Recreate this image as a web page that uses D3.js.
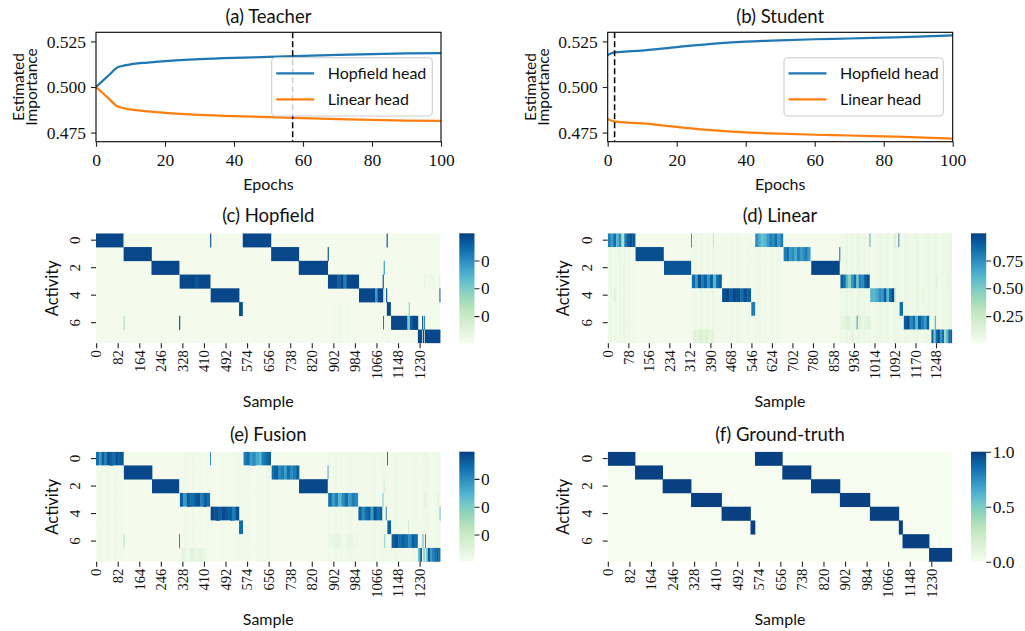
<!DOCTYPE html>
<html><head><meta charset="utf-8">
<script src="https://cdn.jsdelivr.net/npm/d3@7/dist/d3.min.js"></script>
<style>
body{margin:0;background:#fff;}
svg text{fill:#111;}
.sans{font-family:Lato,"Noto Sans",sans-serif;}
.serif{font-family:"Liberation Serif",serif;}
</style></head><body>
<svg id="fig" width="1025" height="631" xmlns="http://www.w3.org/2000/svg"></svg>
<script>
// ---------------- DATA ----------------
const teacherEpochs   = [0,2,4,6,8,10,15,20,30,40,50,60,70,80,90,100];
const teacherHopfield = [0.5000,0.5035,0.5070,0.5105,0.5117,0.5124,0.5134,0.5142,0.5153,0.5160,0.5165,0.5171,0.5176,0.5180,0.5184,0.5186];
const teacherLinear   = [0.5000,0.4966,0.4931,0.4896,0.4884,0.4877,0.4866,0.4858,0.4847,0.4840,0.4835,0.4829,0.4824,0.4820,0.4816,0.4814];
const teacherBest = 57;

const studentEpochs   = [0,2,5,10,20,30,40,50,60,70,80,90,100];
const studentHopfield = [0.5176,0.5190,0.5194,0.5200,0.5219,0.5237,0.5249,0.5256,0.5262,0.5266,0.5271,0.5276,0.5283];
const studentLinear   = [0.4824,0.4810,0.4806,0.4800,0.4781,0.4763,0.4751,0.4744,0.4738,0.4734,0.4729,0.4724,0.4717];
const studentBest = 2;

const lineYTicks = [0.475,0.500,0.525];
const lineXTicks = [0,20,40,60,80,100];
const seriesNames = ["Hopfield head","Linear head"];

const nSamples = 1310;
const activities = [0,1,2,3,4,5,6,7];
const activityTicks = [0,2,4,6];

// blocks: [activity, startSample, endSample, intensity profile along the block]
const groundTruthBlocks = [
  [0,0,104,[1]],[1,104,209,[1]],[2,209,317,[1]],[3,317,433,[1]],[4,433,543,[1]],[5,543,560,[1]],
  [0,560,664,[1]],[1,664,773,[1]],[2,773,883,[1]],[3,883,997,[1]],[4,997,1107,[1]],[5,1107,1121,[1]],
  [6,1121,1222,[1]],[7,1222,1310,[1]]
];

const hopfieldBlocks = [
  [0,0,104,[0.97]],[1,105,211,[0.97]],[2,211,316,[0.97]],
  [3,318,434,[0.97,0.97,0.97,0.97,0.93,0.97,0.97,0.97]],
  [4,436,544,[0.97]],[5,544,557,[0.95]],
  [0,558,665,[0.97]],[1,666,771,[0.97]],[2,771,881,[0.97]],
  [3,882,999,[0.97,0.97,0.97,0.9,0.97,0.8,0.97,0.97,0.97,0.97]],
  [4,1000,1091,[0.97,0.97,0.97,0.97,0.97,0.97,0.7,0.97,0.97]],
  [5,1106,1120,[0.97]],
  [6,1122,1224,[0.97,0.97,0.97,0.97,0.97,0.97,0.5,0.9,0.97,0.97]],
  [7,1224,1239,[0.97]],[7,1243,1246,[0.97]],[7,1250,1310,[0.97]]
];
// streaks: [activity, sample, value, width]
const hopfieldStreaks = [
  [0,105,0.12,3],[6,105,0.35,3],[6,316,0.95,3],[0,434,0.95,3],[1,881,0.95,3],
  [0,1105,0.95,3],[2,1094,0.7,3],[3,1090,0.95,3],[4,1096,0.2,3],[4,1103,0.95,3],[6,1092,0.95,3],
  [4,1306,0.95,4],[5,1189,0.45,3],[3,1250,0.18,3],[3,1304,0.15,3],
  [6,1240,0.95,3],[6,1247,0.75,3]
];
// tints: [activities, startSample, endSample, faint levels]
const hopfieldTints = [
  [[5,6,7],890,960,[0.02,0.04,0.02,0.05,0.03,0.02,0.04]],
  [[6,7],1090,1122,[0.03,0.05]],
  [[3],1240,1310,[0.03,0.06,0.03]]
];

const linearBlocks = [
  [0,0,104,[0.8,0.7,0.85,0.6,0.75,0.35,0.8,0.9,0.95,0.92]],
  [1,106,212,[0.95]],[2,214,316,[0.93]],
  [3,320,434,[0.85,0.7,0.95,0.8,0.9,0.72,0.9,0.6,0.85,0.9]],
  [4,435,544,[0.95,0.98,0.9,0.97,0.95,0.85,0.95,0.9]],
  [5,546,561,[0.8]],
  [0,561,666,[0.75,0.65,0.55,0.6,0.7,0.8,0.75,0.85,0.7,0.8]],
  [1,669,770,[0.8,0.85,0.7,0.75,0.65,0.8,0.7,0.75,0.8,0.7]],
  [2,774,881,[0.97]],
  [3,885,995,[0.9,0.85,0.6,0.45,0.7,0.85,0.55,0.8,0.75,0.9,0.95]],
  [4,998,1090,[0.6,0.6,0.65,0.75,0.7,0.9,0.6,0.85,0.95]],
  [5,1110,1123,[0.85]],
  [6,1126,1223,[0.9,0.95,0.75,0.85,0.6,0.9,0.8,0.7,0.9]],
  [7,1231,1310,[0.9,0.5,0.85,0.95,0.7,0.85,0.4,0.6,0.85,0.9]]
];
const linearStreaks = [
  [0,317,0.8,3],[0,401,0.3,3],[4,26,0.3,3],[1,881,0.95,3],[0,996,0.8,3],[0,1091,0.3,3],
  [0,1106,0.95,3],[4,1092,0.3,3],[6,947,0.8,3],[6,1244,0.75,3],[7,931,0.25,3],
  [3,1250,0.22,3],[3,1290,0.18,3],[4,1196,0.18,3],[1,40,0.12,3],[6,80,0.15,3]
];
const linearTints = [
  [[1,2,3,4,5,6,7],0,104,[0.05,0.08,0.04,0.06,0.03,0.07,0.05,0.08,0.04,0.06,0.03,0.05]],
  [[0,1,2,4,5,6,7],320,434,[0.04,0.06,0.03,0.07,0.05,0.03,0.06,0.04,0.07,0.03,0.05,0.04]],
  [[0,1,2,3,5,6,7],434,546,[0.04,0.03,0.05,0.03,0.06,0.04,0.03,0.05]],
  [[1,2,3,4,5,6,7],546,666,[0.03,0.05,0.06,0.04,0.05,0.03,0.05,0.04,0.06,0.03]],
  [[0,1,2,4,5,6,7],885,998,[0.06,0.04,0.08,0.05,0.07,0.04,0.06,0.09,0.05,0.07,0.04,0.06]],
  [[0,1,2,3,4,5,6,7],998,1310,[0.04,0.06,0.08,0.05,0.07,0.04,0.08,0.06,0.04,0.07,0.06,0.05,0.08,0.04,0.06,0.07,0.05,0.08,0.04,0.06,0.05,0.07]],
  [[7],326,405,[0.14,0.09,0.18,0.12,0.16,0.1,0.15]],
  [[6],885,1000,[0.1,0.14,0.08,0.15,0.09,0.12]]
];

const fusionBlocks = [
  [0,0,104,[0.85,0.7,0.9,0.8,0.95,0.9,0.85,0.95,0.9,0.92]],
  [1,106,213,[0.97]],[2,213,315,[0.97]],
  [3,319,434,[0.9,0.7,0.9,0.85,0.9,0.95,0.8,0.9,0.85]],
  [4,436,544,[0.97,0.95,0.9,0.97,0.93,0.9,0.8,0.95]],
  [5,544,559,[0.85]],
  [0,561,664,[0.8,0.85,0.7,0.75,0.65,0.6,0.8,0.85,0.9]],
  [1,668,772,[0.85,0.9,0.75,0.8,0.7,0.85,0.75,0.8,0.9]],
  [2,772,880,[0.97]],
  [3,883,996,[0.85,0.7,0.8,0.6,0.75,0.85,0.7,0.8,0.75]],
  [4,998,1089,[0.9,0.75,0.85,0.9,0.7,0.95,0.85,0.9]],
  [5,1108,1122,[0.9]],
  [6,1124,1224,[0.9,0.95,0.85,0.9,0.85,0.75,0.9,0.85]],
  [7,1225,1240,[0.6,0.9]],[7,1246,1249,[0.8]],[7,1254,1310,[0.5,0.9,0.7,0.8,0.85,0.9,0.85]]
];
const fusionStreaks = [
  [0,434,0.85,3],[6,105,0.3,3],[6,316,0.8,3],[1,881,0.8,3],[2,1094,0.3,3],[3,1090,0.65,3],
  [4,1102,0.9,3],[4,1307,0.7,3],[0,1107,0.95,3],[6,1097,0.6,3],[6,1242,0.75,3],[6,1251,0.9,3],
  [5,1188,0.3,3],[3,1250,0.22,3],[3,1300,0.18,3]
];
const fusionTints = [
  [[1,2,3,4,5,6,7],0,104,[0.03,0.05,0.03,0.04,0.02,0.05,0.03,0.04]],
  [[0,1,2,4,5,6,7],320,434,[0.03,0.04,0.02,0.05,0.03,0.04,0.02,0.04]],
  [[0,1,2,3,5,6,7],434,546,[0.03,0.02,0.04,0.03,0.02,0.04]],
  [[1,2,3,4,5,6,7],546,666,[0.03,0.04,0.02,0.04,0.03,0.05]],
  [[0,1,2,4,5,6,7],883,998,[0.04,0.03,0.06,0.03,0.05,0.03,0.05,0.06,0.03,0.04]],
  [[0,1,2,3,4,5,6,7],998,1310,[0.03,0.04,0.06,0.03,0.05,0.04,0.06,0.04,0.03,0.05,0.04,0.06,0.03,0.05]],
  [[7],326,420,[0.1,0.06,0.13,0.08,0.11,0.07]],
  [[6],883,1000,[0.07,0.1,0.05,0.09,0.06]]
];

const probTicks = [0.25,0.50,0.75];
const binaryTicks = [0.0,0.5,1.0];

// ---------------- DRAWING ----------------
const svg = d3.select("#fig");
const blue = "#1f77b4", orange = "#ff7f0e";

function styleAxis(g, fontCls, size){
  g.selectAll("text").attr("class",fontCls).style("font-size",size+"px").attr("fill","#111");
  g.selectAll(".tick line").attr("stroke","#222").attr("stroke-width",1.1);
}

function drawLine(o){
  const L=o.left, T=32.3, W=345, H=109.4;
  const x = d3.scaleLinear().domain([0,100]).range([L,L+W]);
  const y = d3.scaleLinear().domain([0.47,0.53]).range([T+H,T]);
  const g = svg.append("g");
  const line = d3.line().x((d,i)=>x(o.epochs[i])).y(d=>y(d)).curve(d3.curveMonotoneX);
  const clipId = "clip"+o.key;
  svg.append("clipPath").attr("id",clipId).append("rect").attr("x",L).attr("y",T).attr("width",W).attr("height",H);
  const pg = g.append("g").attr("clip-path",`url(#${clipId})`);
  pg.append("path").datum(o.hop).attr("d",line).attr("fill","none").attr("stroke",blue).attr("stroke-width",2.2);
  pg.append("path").datum(o.lin).attr("d",line).attr("fill","none").attr("stroke",orange).attr("stroke-width",2.2);
  g.append("line").attr("x1",x(o.best)).attr("x2",x(o.best)).attr("y1",T).attr("y2",T+H)
    .attr("stroke","#000").attr("stroke-width",1.5).attr("stroke-dasharray","6,3");
  g.append("rect").attr("x",L).attr("y",T).attr("width",W).attr("height",H).attr("fill","none").attr("stroke","#000").attr("stroke-width",1.1);
  const xa = g.append("g").attr("transform",`translate(0,${T+H})`)
    .call(d3.axisBottom(x).tickValues(lineXTicks).tickSize(5).tickPadding(7).tickFormat(d3.format("d")));
  xa.select(".domain").remove(); styleAxis(xa,"serif",17.5);
  const ya = g.append("g").attr("transform",`translate(${L},0)`)
    .call(d3.axisLeft(y).tickValues(lineYTicks).tickSize(5).tickPadding(5).tickFormat(d3.format(".3f")));
  ya.select(".domain").remove(); styleAxis(ya,"serif",17.5);
  g.append("text").attr("class","sans").attr("x",L+W/2).attr("y",22.5).attr("text-anchor","middle").style("font-size","18.5px").text(o.title);
  g.append("text").attr("class","sans").attr("x",L+W/2).attr("y",190).attr("text-anchor","middle").style("font-size","16px").text("Epochs");
  [["Estimated",L-77],["Importance",L-64]].forEach(([t,xx])=>{
    g.append("text").attr("class","sans").attr("transform",`translate(${xx},${y(0.5)}) rotate(-90)`)
      .attr("text-anchor","middle").attr("dy","0.35em").style("font-size","15.5px").text(t);
  });
  const lg = g.append("g");
  lg.append("rect").attr("x",o.legX).attr("y",57.7).attr("width",o.legW).attr("height",58.3).attr("rx",4)
    .attr("fill","#fff").attr("fill-opacity",0.8).attr("stroke","#ccc").attr("stroke-width",1.1);
  [[seriesNames[0],blue,73.3],[seriesNames[1],orange,99.3]].forEach(([t,c,yy])=>{
    lg.append("line").attr("x1",o.legX+4.5).attr("x2",o.legX+42.5).attr("y1",yy).attr("y2",yy).attr("stroke",c).attr("stroke-width",2.2);
    lg.append("text").attr("class","sans").attr("x",o.legX+56).attr("y",yy).attr("dy","0.35em").style("font-size","16px").text(t);
  });
}

drawLine({key:"a",left:96,title:"(a) Teacher",epochs:teacherEpochs,hop:teacherHopfield,lin:teacherLinear,best:teacherBest,legX:271.7,legW:160.6});
drawLine({key:"b",left:607.7,title:"(b) Student",epochs:studentEpochs,hop:studentHopfield,lin:studentLinear,best:studentBest,legX:784,legW:159.3});

function buildMatrix(p){
  const m = activities.map(()=>new Array(nSamples).fill(p.base));
  p.tints.forEach(([rows,s0,s1,lv])=>{
    const step=(s1-s0)/lv.length;
    for(let s=s0;s<s1;s++){const v=lv[Math.min(lv.length-1,Math.floor((s-s0)/step))]; rows.forEach(r=>{m[r][s]=Math.max(m[r][s],v);});}
  });
  p.blocks.forEach(([r,s0,s1,pr])=>{
    const step=(s1-s0)/pr.length;
    for(let s=s0;s<Math.min(s1,nSamples);s++) m[r][s]=pr[Math.min(pr.length-1,Math.floor((s-s0)/step))];
  });
  p.streaks.forEach(([r,s,v,w])=>{ for(let i=0;i<w;i++) if(s+i<nSamples) m[r][s+i]=v; });
  return m;
}

function drawHeat(p){
  const W=344.5, H=110, L=p.left, T=p.top;
  const x = d3.scaleLinear().domain([0,nSamples]).range([L,L+W]);
  const y = d3.scaleBand().domain(activities).range([T,T+H]);
  const color = d3.scaleSequential(d3.interpolateGnBu).domain(p.domain);
  const m = buildMatrix(p);
  const clipId="hclip"+p.key;
  svg.append("clipPath").attr("id",clipId).append("rect").attr("x",L).attr("y",T).attr("width",W).attr("height",H);
  const g = svg.append("g").attr("clip-path",`url(#${clipId})`);
  g.append("rect").attr("x",L).attr("y",T).attr("width",W).attr("height",H).attr("fill",color(p.base));
  const runs=[];
  activities.forEach(r=>{
    let s=0;
    while(s<nSamples){let e=s+1; while(e<nSamples && m[r][e]===m[r][s]) e++; if(m[r][s]!==p.base) runs.push({r,s,e,v:m[r][s]}); s=e;}
  });
  g.selectAll("rect.cell").data(runs).join("rect").attr("class","cell")
    .attr("x",d=>x(d.s)).attr("y",d=>y(d.r)).attr("width",d=>x(d.e)-x(d.s)+0.35).attr("height",y.bandwidth()+0.35)
    .attr("fill",d=>color(d.v));
  const ticks = d3.range(0,nSamples,p.tickStep);
  const xa = svg.append("g").attr("transform",`translate(0,${T+H})`)
    .call(d3.axisBottom(x).tickValues(ticks.map(t=>t+0.5)).tickSize(5).tickFormat(d=>Math.floor(d)));
  xa.select(".domain").remove(); styleAxis(xa,"serif",14.5);
  xa.selectAll("text").attr("y",null).attr("x",0).attr("dy","0.33em").attr("text-anchor","end").attr("transform","translate(0,7) rotate(-90)");
  const ya = svg.append("g").attr("transform",`translate(${L},0)`)
    .call(d3.axisLeft(y).tickValues(activityTicks).tickSize(5));
  ya.select(".domain").remove(); styleAxis(ya,"serif",15);
  ya.selectAll("text").attr("x",0).attr("dy",0).attr("text-anchor","middle").attr("transform","translate(-16,0) rotate(-90)");
  svg.append("text").attr("class","sans").attr("x",L+W/2).attr("y",T-11).attr("text-anchor","middle").style("font-size","18.5px").text(p.title);
  svg.append("text").attr("class","sans").attr("x",L+W/2).attr("y",T+H+63.5).attr("text-anchor","middle").style("font-size","16px").text("Sample");
  svg.append("text").attr("class","sans").attr("transform",`translate(${L-44},${T+H/2}) rotate(-90)`).attr("dy","0.35em")
    .attr("text-anchor","middle").style("font-size","16.5px").text("Activity");
  const cbX=L+363.3, cbW=15.2;
  const gradId="grad"+p.key;
  const grad = svg.append("defs").append("linearGradient").attr("id",gradId).attr("x1",0).attr("y1",1).attr("x2",0).attr("y2",0);
  d3.range(0,1.0001,0.05).forEach(t=>grad.append("stop").attr("offset",t).attr("stop-color",color(p.domain[0]+t*(p.domain[1]-p.domain[0]))));
  svg.append("rect").attr("x",cbX).attr("y",T).attr("width",cbW).attr("height",H).attr("fill",`url(#${gradId})`);
  const cs = d3.scaleLinear().domain(p.domain).range([T+H,T]);
  const cbClip="cbclip"+p.key;
  svg.append("clipPath").attr("id",cbClip).append("rect").attr("x",cbX).attr("y",T-20).attr("width",p.cbClipW).attr("height",H+40);
  const ca = svg.append("g").attr("clip-path",`url(#${cbClip})`).append("g").attr("transform",`translate(${cbX+cbW},0)`)
    .call(d3.axisRight(cs).tickValues(p.cbTicks).tickSize(5).tickPadding(1.5).tickFormat(d3.format(p.cbFmt)));
  ca.select(".domain").remove(); styleAxis(ca,"serif",17.5);
}

drawHeat({key:"c",title:"(c) Hopfield",left:96,top:233.3,blocks:hopfieldBlocks,streaks:hopfieldStreaks,tints:hopfieldTints,base:0.02,domain:[0.005,0.995],cbTicks:probTicks,cbFmt:".2f",tickStep:82,cbClipW:30});
drawHeat({key:"d",title:"(d) Linear",left:607.7,top:233.3,blocks:linearBlocks,streaks:linearStreaks,tints:linearTints,base:0.02,domain:[0.005,0.995],cbTicks:probTicks,cbFmt:".2f",tickStep:78,cbClipW:80});
drawHeat({key:"e",title:"(e) Fusion",left:96,top:451.7,blocks:fusionBlocks,streaks:fusionStreaks,tints:fusionTints,base:0.02,domain:[0.005,0.995],cbTicks:probTicks,cbFmt:".2f",tickStep:82,cbClipW:30});
drawHeat({key:"f",title:"(f) Ground-truth",left:607.7,top:451.7,blocks:groundTruthBlocks,streaks:[],tints:[],base:0,domain:[0,1],cbTicks:binaryTicks,cbFmt:".1f",tickStep:82,cbClipW:80});
</script>
</body></html>
